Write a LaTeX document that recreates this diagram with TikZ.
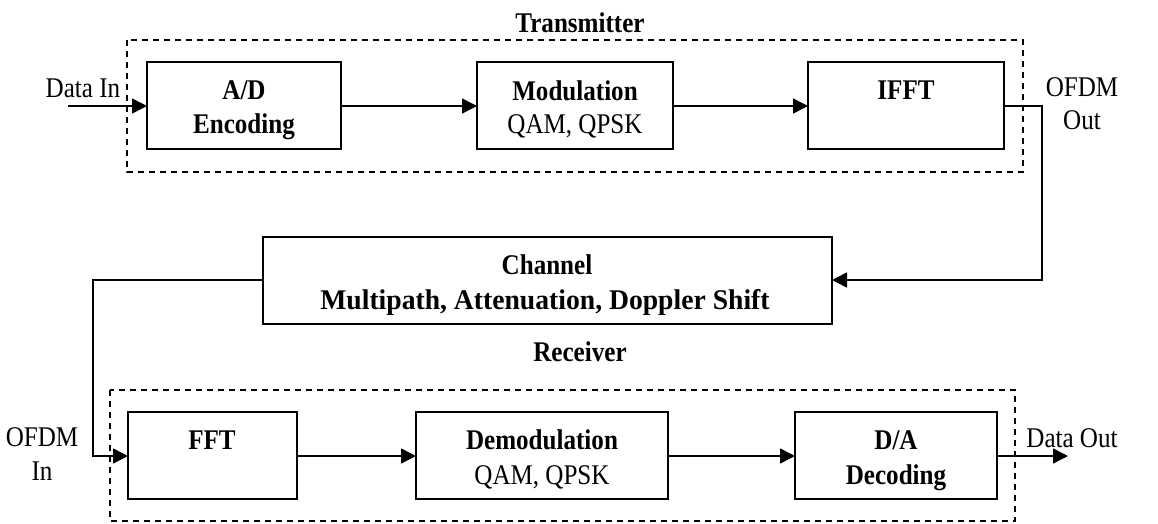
\documentclass[tikz,border=0pt]{standalone}
\usepackage{fontspec}
\setmainfont{Liberation Serif}
\newfontfamily\diagfont[FakeStretch=0.88]{Liberation Serif}
\newfontfamily\widefont[FakeStretch=0.97]{Liberation Serif}
\usetikzlibrary{arrows.meta}
\begin{document}
\begin{tikzpicture}[x=1pt,y=-1pt,
  line width=1.6pt,
  block/.style={draw, line width=1.6pt},
  group/.style={draw, dash pattern=on 6pt off 5pt, line width=1.4pt},
  lbl/.style={font=\diagfont\fontsize{28.5}{32}\selectfont, inner sep=0pt, anchor=base},
  btitle/.style={font=\diagfont\fontsize{28.5}{32}\selectfont\bfseries, inner sep=0pt, anchor=base},
  flow/.style={-{Triangle[length=15pt,width=15pt]}, line width=1.6pt}]
\useasboundingbox (0,0) rectangle (1158,523);

% group frames
\draw[group] (127,40) rectangle (1023,172);
\draw[group] (110,390) rectangle (1015,521);
\node[btitle] (tx) at (580,32) {Transmitter};
\node[btitle] (rx) at (580,361) {Receiver};

% transmitter blocks
\draw[block] (147,62) rectangle (341,149);
\coordinate (adL) at (147,106); \coordinate (adR) at (341,106);
\node[btitle] (ad1) at (244,99) {A/D};
\node[btitle] (ad2) at (244,133) {Encoding};

\draw[block] (477,62) rectangle (673,149);
\coordinate (modL) at (477,106); \coordinate (modR) at (673,106);
\node[btitle] (modt) at (575,100) {Modulation};
\node[lbl] (mods) at (575,133) {QAM, QPSK};

\draw[block] (808,62) rectangle (1004,149);
\coordinate (ifL) at (808,106); \coordinate (ifR) at (1004,106);
\node[btitle] (ifft) at (906,99) {IFFT};

% channel
\draw[block] (263,237) rectangle (832,324);
\coordinate (chL) at (263,280); \coordinate (chR) at (832,280);
\node[btitle] (ch1) at (547,274) {Channel};
\node[font=\widefont\fontsize{28.5}{32}\selectfont\bfseries, inner sep=0pt, anchor=base] (ch2) at (545,309) {Multipath, Attenuation, Doppler Shift};

% receiver blocks
\draw[block] (128,412) rectangle (297,499);
\coordinate (fftL) at (128,456); \coordinate (fftR) at (297,456);
\node[btitle] (fft) at (212,449) {FFT};

\draw[block] (416,412) rectangle (668,499);
\coordinate (demL) at (416,456); \coordinate (demR) at (668,456);
\node[btitle] (demt) at (542,449) {Demodulation};
\node[lbl] (dems) at (542,484) {QAM, QPSK};

\draw[block] (795,412) rectangle (997,499);
\coordinate (daL) at (795,456); \coordinate (daR) at (997,456);
\node[btitle] (da1) at (896,449) {D/A};
\node[btitle] (da2) at (896,484) {Decoding};

% external labels
\node[lbl] (din) at (83,97) {Data In};
\node[lbl] (oout1) at (1082,96) {OFDM};
\node[lbl] (oout2) at (1082,129) {Out};
\node[lbl] (oin1) at (42,446) {OFDM};
\node[lbl] (oin2) at (42,480) {In};
\node[lbl] (dout) at (1072,447) {Data Out};

% signal flow
\coordinate (src) at (68,106);
\coordinate (snk) at (1068,456);
\draw[flow] (src) -- (adL);
\draw[flow] (adR) -- (modL);
\draw[flow] (modR) -- (ifL);
\draw[flow] (ifR) -- (1042,106) -- (1042,280) -- (chR);
\draw[flow] (chL) -- (93,280) -- (93,456) -- (fftL);
\draw[flow] (fftR) -- (demL);
\draw[flow] (demR) -- (daL);
\draw[flow] (daR) -- (snk);
\end{tikzpicture}
\end{document}
